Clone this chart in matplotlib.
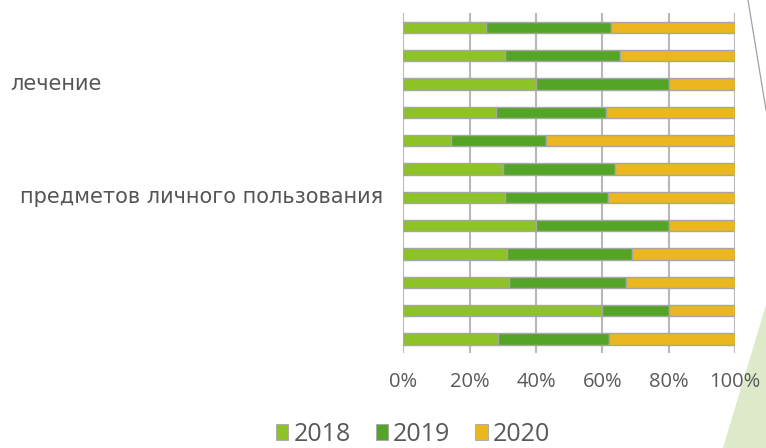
import matplotlib.pyplot as plt
from matplotlib.patches import Patch, Polygon
from matplotlib.lines import Line2D
from matplotlib.transforms import blended_transform_factory

# 12 categories, top to bottom; most labels are cut off in the source
categories = ['', '', 'лечение', '', '', '', 'предметов личного пользования',
              '', '', '', '', '']
years = ['2018', '2019', '2020']
share_2018 = [25.0, 30.8, 40.0, 27.8, 14.3, 30.0, 30.8, 40.0, 31.3, 31.8, 60.0, 28.6]
share_2019 = [37.5, 34.6, 40.0, 33.3, 28.6, 33.8, 30.8, 40.0, 37.5, 35.2, 20.0, 33.4]
share_2020 = [37.5, 34.6, 20.0, 38.9, 57.1, 36.2, 38.4, 20.0, 31.2, 33.0, 20.0, 38.0]
xticks = [0, 20, 40, 60, 80, 100]

colors = ['#8dc326', '#54a526', '#eab71e']

W, H = 766, 448
fig = plt.figure(figsize=(W / 100, H / 100), dpi=100)
ax = fig.add_axes([403.3 / W, 1 - 353 / H, (735 - 403.3) / W, (353 - 13) / H])

y = list(range(len(categories)))
left = [0] * len(y)
for vals, c in zip([share_2018, share_2019, share_2020], colors):
    ax.barh(y, vals, left=left, height=0.4, color=c, edgecolor='#a6a6a6', linewidth=1.0)
    left = [l + v for l, v in zip(left, vals)]

ax.set_xlim(0, 100)
ax.set_ylim(len(y) - 0.5, -0.5)
ax.set_xticks(xticks)
ax.set_xticklabels([f'{t}%' for t in xticks], fontfamily='Open Sans', fontsize=14.5, color='#595959')
ax.set_yticks([])
ax.tick_params(axis='x', length=0, pad=14)
ax.grid(axis='x', color='#b8b8b8', linewidth=1.5)
ax.set_axisbelow(True)
for s in ax.spines.values():
    s.set_visible(False)

# category labels (left part of the slide is cut off)
trans = blended_transform_factory(fig.transFigure, ax.transData)
for i, lab in enumerate(categories):
    if not lab:
        continue
    if i == 2:
        ax.text(102 / W, i, lab, transform=trans, ha='right', va='center',
                fontsize=15, color='#555555')
    else:
        ax.text(20 / W, i, lab, transform=trans, ha='left', va='center',
                fontsize=15, color='#555555')

handles = [Patch(facecolor=c, edgecolor='#a6a6a6', linewidth=0.6) for c in colors]
fig.legend(handles, years, loc='center', bbox_to_anchor=(413 / W, 1 - 434 / H),
           ncol=3, frameon=False, prop={'family': 'Open Sans', 'size': 18},
           labelcolor='#595959', handlelength=0.5, handleheight=0.6,
           handletextpad=0.2, columnspacing=1.0, borderpad=0)

# slide decorations on the right
fig.patches.append(Polygon([[766 / W, 1 - 305 / H], [723 / W, 0], [1, 0]], closed=True,
                           transform=fig.transFigure, facecolor='#dde9c8', edgecolor='none', zorder=-1))
fig.lines.append(Line2D([748 / W, 766 / W], [1, 1 - 110 / H], transform=fig.transFigure,
                        color='#a0a0a0', linewidth=0.9))

fig.savefig('out.png', dpi=100)
